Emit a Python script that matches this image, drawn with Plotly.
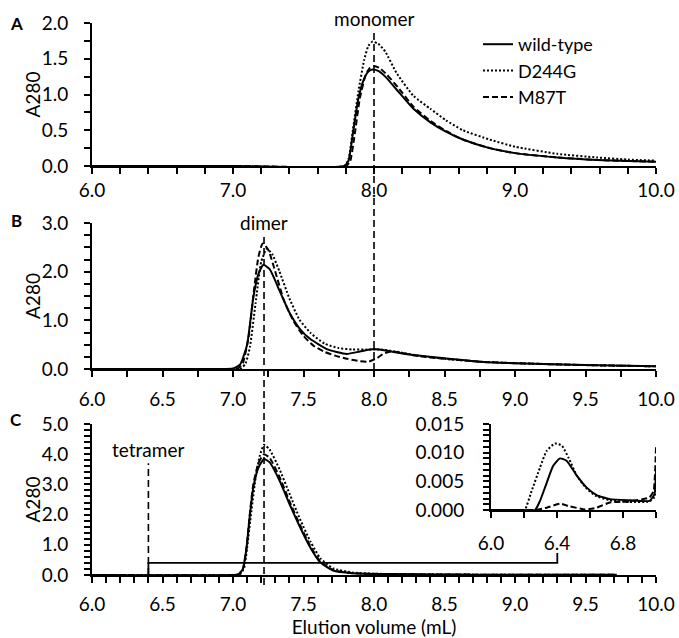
import plotly.graph_objects as go

# ---------------- data ----------------
series_names = ["wild-type", "D244G", "M87T"]

# Panel A (monomer)
A_wt_x = [6.0, 7.0, 7.79, 7.82, 7.85, 7.89, 7.93, 7.96, 7.99, 8.03, 8.08, 8.16, 8.28, 8.40, 8.51, 8.63, 8.82, 9.0, 9.3, 9.58, 9.8, 10.0]
A_wt_y = [0, 0, 0, 0.08, 0.45, 0.95, 1.22, 1.32, 1.35, 1.33, 1.25, 1.07, 0.80, 0.61, 0.48, 0.37, 0.25, 0.18, 0.12, 0.085, 0.07, 0.06]
A_d244g_x = [6.0, 7.0, 7.79, 7.82, 7.85, 7.89, 7.93, 7.96, 7.99, 8.03, 8.08, 8.16, 8.28, 8.40, 8.51, 8.63, 8.82, 9.0, 9.3, 9.58, 9.8, 10.0]
A_d244g_y = [0, 0, 0, 0.1, 0.5, 1.05, 1.48, 1.68, 1.74, 1.71, 1.60, 1.30, 0.98, 0.80, 0.64, 0.50, 0.37, 0.27, 0.17, 0.12, 0.09, 0.075]
A_m87t_x = [6.0, 7.0, 7.80, 7.83, 7.86, 7.90, 7.94, 7.97, 8.00, 8.04, 8.09, 8.17, 8.28, 8.40, 8.51, 8.63, 8.82, 9.0, 9.3, 9.58, 9.8, 10.0]
A_m87t_y = [0, 0, 0, 0.06, 0.40, 0.95, 1.27, 1.37, 1.40, 1.37, 1.28, 1.10, 0.83, 0.63, 0.49, 0.37, 0.25, 0.18, 0.12, 0.085, 0.07, 0.06]

# Panel B (dimer)
B_wt_x = [6.0, 6.9, 7.0, 7.05, 7.10, 7.144, 7.18, 7.215, 7.26, 7.33, 7.40, 7.475, 7.546, 7.665, 7.806, 7.90, 8.0, 8.14, 8.25, 8.5, 8.75, 9.0, 9.5, 10.0]
B_wt_y = [0, 0, 0.01, 0.09, 0.5, 1.47, 1.95, 2.14, 2.05, 1.61, 1.16, 0.82, 0.62, 0.41, 0.31, 0.36, 0.41, 0.35, 0.30, 0.22, 0.15, 0.12, 0.08, 0.055]
B_d244g_x = [6.0, 7.0, 7.06, 7.09, 7.12, 7.16, 7.20, 7.24, 7.28, 7.33, 7.40, 7.47, 7.55, 7.65, 7.75, 7.85, 7.95, 8.05, 8.15, 8.3, 8.5, 8.75, 9.0, 9.5, 10.0]
B_d244g_y = [0, 0, 0.02, 0.12, 0.45, 1.35, 2.2, 2.47, 2.35, 2.0, 1.45, 1.02, 0.74, 0.52, 0.43, 0.40, 0.40, 0.40, 0.36, 0.28, 0.21, 0.15, 0.12, 0.08, 0.055]
B_m87t_x = [6.0, 7.0, 7.04, 7.07, 7.11, 7.15, 7.18, 7.21, 7.25, 7.30, 7.36, 7.43, 7.50, 7.57, 7.65, 7.73, 7.81, 7.90, 7.96, 8.02, 8.07, 8.12, 8.2, 8.3, 8.5, 8.75, 9.0, 9.5, 10.0]
B_m87t_y = [0, 0, 0.02, 0.12, 0.65, 1.65, 2.3, 2.58, 2.45, 2.0, 1.42, 0.98, 0.68, 0.48, 0.35, 0.27, 0.21, 0.16, 0.15, 0.22, 0.32, 0.36, 0.33, 0.27, 0.21, 0.15, 0.12, 0.08, 0.055]

# Panel C (tetramer)
C_wt_x = [6.0, 7.0, 7.04, 7.07, 7.096, 7.12, 7.144, 7.18, 7.22, 7.26, 7.33, 7.40, 7.475, 7.546, 7.617, 7.71, 7.85, 8.1, 8.5, 9.0, 9.72]
C_wt_y = [0, 0, 0.02, 0.2, 0.9, 2.0, 2.9, 3.55, 3.84, 3.73, 3.13, 2.36, 1.59, 0.93, 0.43, 0.15, 0.06, 0.03, 0.015, 0.01, 0.008]
C_d244g_x = [6.0, 7.0, 7.05, 7.08, 7.10, 7.13, 7.16, 7.19, 7.22, 7.26, 7.33, 7.40, 7.475, 7.55, 7.62, 7.71, 7.85, 8.1, 8.5, 9.0, 9.72]
C_d244g_y = [0, 0, 0.02, 0.25, 0.9, 2.1, 3.2, 3.95, 4.31, 4.15, 3.5, 2.7, 1.85, 1.1, 0.55, 0.22, 0.08, 0.03, 0.015, 0.01, 0.008]
C_m87t_x = [6.0, 7.0, 7.04, 7.07, 7.096, 7.12, 7.144, 7.18, 7.22, 7.26, 7.33, 7.40, 7.475, 7.546, 7.617, 7.71, 7.85, 8.1, 8.5, 9.0, 9.72]
C_m87t_y = [0, 0, 0.02, 0.2, 0.92, 2.05, 3.0, 3.7, 4.0, 3.88, 3.25, 2.45, 1.66, 0.98, 0.46, 0.16, 0.06, 0.03, 0.015, 0.01, 0.008]

# Panel C inset (6.0 - 7.0 mL)
I_wt_x = [6.0, 6.2, 6.267, 6.297, 6.337, 6.377, 6.418, 6.458, 6.52, 6.58, 6.64, 6.72, 6.84, 6.96, 6.99, 7.0]
I_wt_y = [0, 0, 0, 0.0016, 0.0047, 0.0077, 0.0090, 0.0086, 0.0060, 0.0039, 0.0026, 0.0019, 0.0017, 0.0016, 0.0027, 0.0068]
I_d244g_x = [6.0, 6.2, 6.206, 6.246, 6.297, 6.337, 6.388, 6.43, 6.47, 6.52, 6.58, 6.64, 6.72, 6.84, 6.96, 6.99, 7.0]
I_d244g_y = [0, 0, 0, 0.0033, 0.0074, 0.0103, 0.0116, 0.0112, 0.0091, 0.0060, 0.0037, 0.0024, 0.0017, 0.0014, 0.0015, 0.0022, 0.0035]
I_m87t_x = [6.0, 6.2, 6.27, 6.337, 6.418, 6.47, 6.57, 6.64, 6.72, 6.84, 6.96, 6.985, 7.0]
I_m87t_y = [0, 0, 0, 0.0004, 0.0011, 0.0007, 0.0001, 0.0004, 0.0013, 0.0015, 0.0022, 0.0033, 0.011]

# marker positions (mL)
monomer_x = 8.0
dimer_x = 7.22
tetramer_x = 6.4
bracket_end_x = 9.3

# ---------------- figure ----------------
W, H = 679, 638
L, R, T, B = 92, 23, 0, 60
PW = W - L - R
PH = H - T - B
FONT = "Lato, Calibri, Arial, sans-serif"
FS = 19

def py(px):
    """page pixel row -> paper fraction"""
    return 1 - (px - T) / PH

def px_x(px):
    """page pixel column -> paper fraction"""
    return (px - L) / PW

def ydom(top_px, bot_px):
    return [py(bot_px), py(top_px)]

styles = [dict(color="black", width=2, dash="solid"),
          dict(color="black", width=2, dash="2px,2px"),
          dict(color="black", width=2, dash="6px,3px")]

fig = go.Figure()
panels = [
    ("x", "y", [(A_wt_x, A_wt_y), (A_d244g_x, A_d244g_y), (A_m87t_x, A_m87t_y)], True),
    ("x2", "y2", [(B_wt_x, B_wt_y), (B_d244g_x, B_d244g_y), (B_m87t_x, B_m87t_y)], False),
    ("x3", "y3", [(C_wt_x, C_wt_y), (C_d244g_x, C_d244g_y), (C_m87t_x, C_m87t_y)], False),
    ("x4", "y4", [(I_wt_x, I_wt_y), (I_d244g_x, I_d244g_y), (I_m87t_x, I_m87t_y)], False),
]
for xa, ya, data, show in panels:
    for name, (xs, ys), st in zip(series_names, data, styles):
        fig.add_trace(go.Scatter(x=xs, y=ys, mode="lines", name=name, xaxis=xa, yaxis=ya,
                                 line=dict(shape="spline", smoothing=0.5, **st),
                                 showlegend=show, hoverinfo="skip"))

def axis(**kw):
    d = dict(showline=True, linecolor="black", linewidth=2, ticks="outside", ticklen=6,
             tickwidth=1.5, tickcolor="black", showgrid=False, zeroline=False,
             tickfont=dict(size=FS, color="black", family=FONT), fixedrange=True)
    d.update(kw)
    return d

def minor(dt):
    return dict(dtick=dt, ticks="outside", ticklen=6, tickwidth=1.5, tickcolor="black", showgrid=False)

YSO = 12

fig.update_layout(
    width=W, height=H,
    margin=dict(l=L, r=R, t=T, b=B, autoexpand=False),
    paper_bgcolor="white", plot_bgcolor="white",
    font=dict(family=FONT, size=FS, color="black"),
    xaxis=axis(domain=[0, 1], anchor="y", range=[6, 10], dtick=1.0, tick0=6, tickformat=".1f",
               minor=minor(0.2), ticklabelstandoff=0),
    yaxis=axis(domain=ydom(23, 166), anchor="x", range=[0, 2], dtick=0.5, tickformat=".1f",
               minor=minor(0.25), ticklabelstandoff=YSO),
    xaxis2=axis(domain=[0, 1], anchor="y2", range=[6, 10], dtick=0.5, tick0=6, tickformat=".1f",
                minor=minor(0.25), ticklabelstandoff=6),
    yaxis2=axis(domain=ydom(223, 369), anchor="x2", range=[0, 3], dtick=1.0, tickformat=".1f",
                minor=minor(0.25), ticklabelstandoff=YSO),
    xaxis3=axis(domain=[0, 1], anchor="y3", range=[6, 10], dtick=0.5, tick0=6, tickformat=".1f",
                minor=minor(0.1), ticklabelstandoff=5,
                title=dict(text="Elution volume (mL)", font=dict(size=FS, color="black", family=FONT), standoff=4)),
    yaxis3=axis(domain=ydom(424, 575), anchor="x3", range=[0, 5], dtick=1.0, tickformat=".1f",
                minor=minor(0.2), ticklabelstandoff=YSO),
    xaxis4=axis(domain=[px_x(491), 1], anchor="y4", range=[6, 7], dtick=0.4, tick0=6, tickformat=".1f",
                minor=minor(0.2), ticklabelstandoff=9),
    yaxis4=axis(domain=ydom(424, 510), anchor="x4", range=[0, 0.015], dtick=0.005, tickformat=".3f",
                minor=minor(0.001), ticklabelstandoff=YSO + 3),
    legend=dict(x=px_x(478), y=py(26), xanchor="left", yanchor="top",
                bgcolor="rgba(0,0,0,0)", font=dict(size=18, family=FONT, color="black"),
                tracegroupgap=0, itemwidth=30),
    showlegend=True,
)

dash_marker = dict(color="black", width=1.6, dash="7px,4px")
fig.add_shape(type="line", xref="x", yref="paper", x0=monomer_x, x1=monomer_x,
              y0=py(370), y1=py(29), line=dash_marker, layer="above")
fig.add_shape(type="line", xref="x2", yref="paper", x0=dimer_x, x1=dimer_x,
              y0=py(585), y1=py(233), line=dash_marker, layer="above")
fig.add_shape(type="line", xref="x3", yref="y3", x0=tetramer_x, x1=tetramer_x,
              y0=0, y1=3.7, line=dash_marker, layer="above")
fig.add_shape(type="path", xref="x3", yref="y3",
              path=f"M {tetramer_x},0 L {tetramer_x},0.4 L {bracket_end_x},0.4 L {bracket_end_x},0.73",
              line=dict(color="black", width=1.8), layer="above")

ann_font = dict(size=FS, family=FONT, color="black")
fig.add_annotation(text="monomer", xref="x", yref="paper", x=monomer_x, y=py(18),
                   xanchor="center", yanchor="middle", showarrow=False, font=ann_font)
fig.add_annotation(text="dimer", xref="x2", yref="paper", x=dimer_x, y=py(222),
                   xanchor="center", yanchor="middle", showarrow=False, font=ann_font)
fig.add_annotation(text="tetramer", xref="x3", yref="y3", x=tetramer_x, y=4.15,
                   xanchor="center", yanchor="middle", showarrow=False, font=ann_font)
# y-axis titles (one per main panel), centred on each panel
for ycen in [(23 + 166) / 2, (223 + 369) / 2, (424 + 575) / 2]:
    fig.add_annotation(text="A280", xref="paper", yref="paper", x=px_x(32), y=py(ycen),
                       xanchor="center", yanchor="middle", textangle=-90, showarrow=False, font=ann_font)
for lab, ypx in [("A", 23), ("B", 221), ("C", 419)]:
    fig.add_annotation(text=f"<b>{lab}</b>", xref="paper", yref="paper", x=px_x(16),
                       y=py(ypx), xanchor="center", yanchor="middle", showarrow=False,
                       font=dict(size=17, family=FONT, color="black"))

fig.write_html("out.html", config={"displayModeBar": False},
               post_script="document.body.style.margin='0px';document.body.style.overflow='hidden';")
